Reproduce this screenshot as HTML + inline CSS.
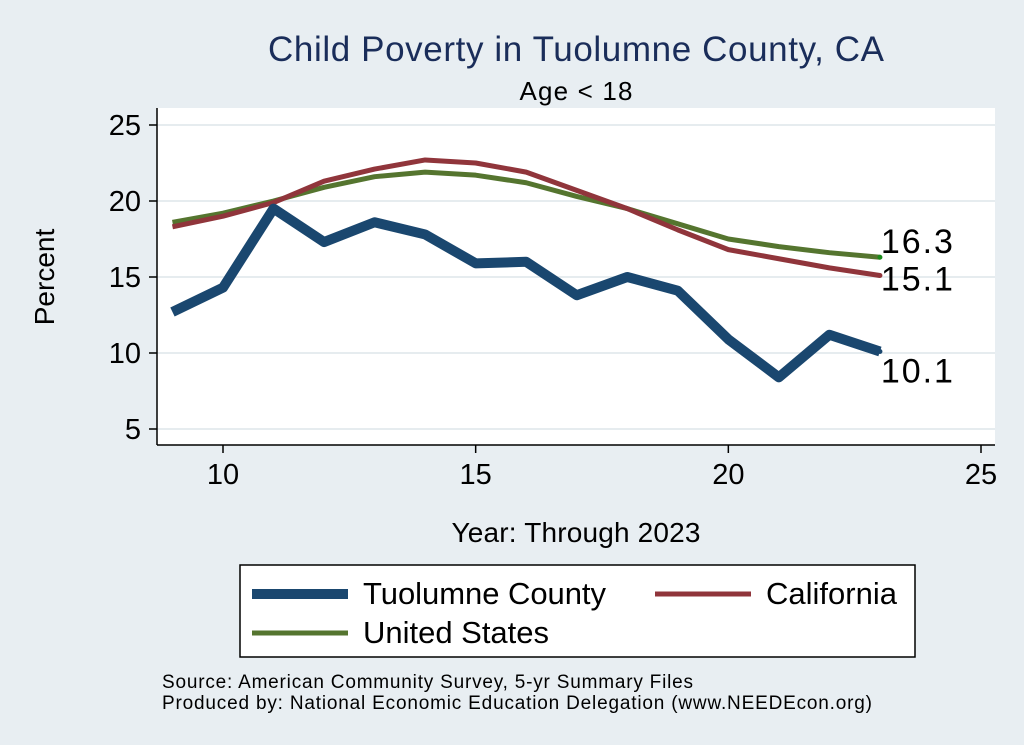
<!DOCTYPE html>
<html><head><meta charset="utf-8"><style>
body{margin:0;background:#e8eef2;}
svg{display:block;font-family:"Liberation Sans",Arial,sans-serif;}
</style></head><body>
<svg id="chart" width="1024" height="745">
<rect x="0" y="0" width="1024" height="745" fill="#e8eef2"/>
<rect x="157" y="108" width="838" height="337" fill="#ffffff"/>
<text x="576" y="61" font-size="35" fill="#1a2d5a" text-anchor="middle" textLength="616">Child Poverty in Tuolumne County, CA</text>
<text x="576" y="100" font-size="26" fill="#000" text-anchor="middle" textLength="113">Age &lt; 18</text>
<g id="grid"></g><g id="axes"></g><g id="series"></g>
<text x="54" y="277" font-size="28" text-anchor="middle" transform="rotate(-90 54 277)">Percent</text>
<text x="576" y="542" font-size="28" text-anchor="middle" textLength="249">Year: Through 2023</text>
<g>
<rect x="240" y="565" width="675" height="92" fill="#fff" stroke="#000" stroke-width="1.5"/>
<line x1="252" y1="594" x2="348" y2="594" stroke="#1a476f" stroke-width="10"/>
<text x="363" y="604" font-size="31" textLength="243">Tuolumne County</text>
<line x1="655" y1="594" x2="751" y2="594" stroke="#90353b" stroke-width="5"/>
<text x="766" y="604" font-size="31" textLength="131">California</text>
<line x1="252" y1="633" x2="348" y2="633" stroke="#55752f" stroke-width="5"/>
<text x="363" y="643" font-size="31" textLength="186">United States</text>
</g>
<text x="162" y="688" font-size="19" textLength="531">Source: American Community Survey, 5-yr Summary Files</text>
<text x="162" y="709" font-size="19" textLength="710">Produced by: National Economic Education Delegation (www.NEEDEcon.org)</text>
</svg>
<script>
const years=[9,10,11,12,13,14,15,16,17,18,19,20,21,22,23];
const tuolumne=[12.7,14.3,19.5,17.3,18.6,17.8,15.9,16.0,13.8,15.0,14.1,10.9,8.4,11.2,10.1];
const california=[18.3,19.0,19.9,21.3,22.1,22.7,22.5,21.9,20.7,19.5,18.1,16.8,16.2,15.6,15.1];
const unitedStates=[18.6,19.2,20.0,20.9,21.6,21.9,21.7,21.2,20.3,19.5,18.5,17.5,17.0,16.6,16.3];
const xTicks=[10,15,20,25];
const yTicks=[5,10,15,20,25];
const NS="http://www.w3.org/2000/svg";
const xs=v=>223+(v-10)*(981-223)/15;
const ys=v=>429-(v-5)*(429-125)/20;
function mk(t,a,p){const e=document.createElementNS(NS,t);for(const k in a)e.setAttribute(k,a[k]);p.appendChild(e);return e;}
const grid=document.getElementById('grid'),axes=document.getElementById('axes'),ser=document.getElementById('series');
yTicks.forEach(v=>{
 const g=mk('line',{x1:157,x2:995,y1:ys(v),y2:ys(v),stroke:'#e6ecef','stroke-width':2},grid);
 
 
 mk('line',{x1:149,x2:157,y1:ys(v),y2:ys(v),stroke:'#000','stroke-width':1.5},axes);
 const t=mk('text',{x:141,y:ys(v)+10,'font-size':29,'text-anchor':'end'},axes);t.textContent=v;
 
 
});
xTicks.forEach(v=>{
 mk('line',{x1:xs(v),x2:xs(v),y1:445,y2:453,stroke:'#000','stroke-width':1.5},axes);
 const t=mk('text',{x:xs(v),y:484,'font-size':29,'text-anchor':'middle'},axes);t.textContent=v;
 
 
});
mk('line',{x1:157,x2:157,y1:108,y2:445,stroke:'#000','stroke-width':1.5},axes);
mk('line',{x1:157,x2:995,y1:445,y2:445,stroke:'#000','stroke-width':1.5},axes);
function line(data,color,w,name){
 const p=mk('polyline',{points:data.map((v,i)=>xs(years[i])+','+ys(v)).join(' '),fill:'none',stroke:color,'stroke-width':w,'stroke-linejoin':'round'},ser);
 
 
}
line(unitedStates,'#55752f',5,'us-line');
line(california,'#90353b',5,'california-line');
line(tuolumne,'#1a476f',10,'tuolumne-line');
const last=years.length-1,lx=xs(years[last]);
[[unitedStates,'#1a8a1a',-4,'us-end-label'],[california,'#90353b',15,'california-end-label'],[tuolumne,'#1a476f',31,'tuolumne-end-label']].forEach(([d,c,dy,n])=>{
 mk('circle',{cx:lx,cy:ys(d[last]),r:2.5,fill:c},ser);
 const t=mk('text',{x:lx+1,y:ys(d[last])+dy,'font-size':34,textLength:72},ser);t.textContent=d[last].toFixed(1);
 
 
});
</script>
</body></html>
